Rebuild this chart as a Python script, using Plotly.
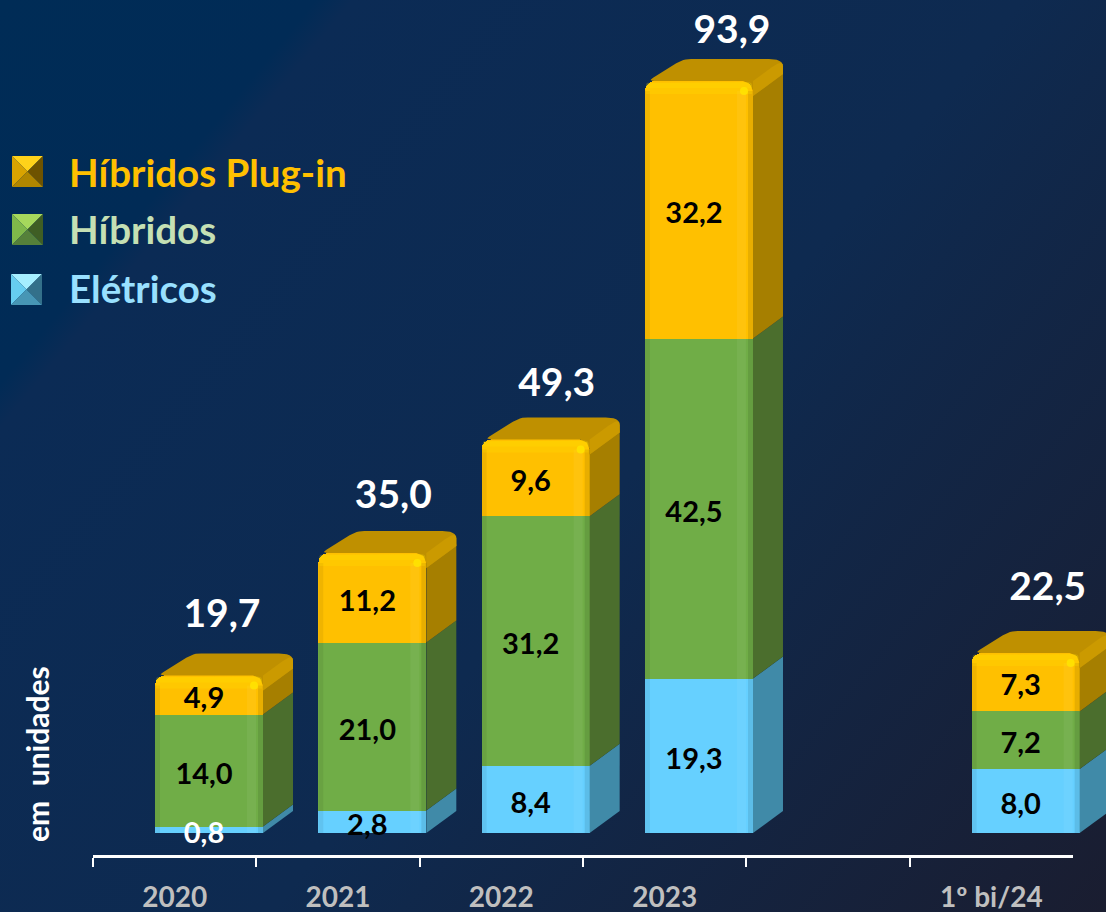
import base64
import plotly.graph_objects as go

# ---------- data ----------
categories = ["2020", "2021", "2022", "2023", " ", "1º bi/24"]
eletricos = [0.8, 2.8, 8.4, 19.3, None, 8.0]
hibridos = [14.0, 21.0, 31.2, 42.5, None, 7.2]
plugin = [4.9, 11.2, 9.6, 32.2, None, 7.3]
totais = [19.7, 35.0, 49.3, 93.9, None, 22.5]
series_names = ["Elétricos", "Híbridos", "Híbridos Plug-in"]

# ---------- geometry / style ----------
W, H = 1106, 912
PX = 163.33      # pixels per category
PY = 8.0         # pixels per unit
X0_PX = 175.0    # pixel of the first category centre
Y0_PX = 833.0    # pixel of value 0
AX_PX = 856.0    # pixel of axis line
BAR_W = 108
BAR_OFF = -20
DX, DY = 30, 22
FONT = "Lato, Carlito, 'Open Sans', sans-serif"
FRONT = ["#66d0ff", "#70ad47", "#ffc000"]
SIDE = ["#408aa8", "#4b6e2d", "#a67f00"]
TOP = "#bf9000"
BEVEL = "#cb9a00"
LEGEND_TXT = ["#99e0ff", "#c5e0b4", "#ffc000"]

idx = [i for i, t in enumerate(totais) if t is not None]
series = [eletricos, hibridos, plugin]


def ux(px):
    return px / PX


def uy(px):
    return px / PY


def rounded(pts, radii, n=6):
    """pts in data units, radii in px; returns a closed polygon in data units."""
    P = [(x * PX, y * PY) for x, y in pts]
    out = []
    m = len(P)
    for k in range(m):
        p, a, b = P[k], P[k - 1], P[(k + 1) % m]
        r = radii[k]
        if r == 0:
            out.append(p)
            continue
        def toward(q):
            d = ((q[0] - p[0]) ** 2 + (q[1] - p[1]) ** 2) ** 0.5
            f = min(r / d, 0.5)
            return (p[0] + (q[0] - p[0]) * f, p[1] + (q[1] - p[1]) * f)
        s, e = toward(a), toward(b)
        for j in range(n + 1):
            t = j / n
            out.append(((1 - t) ** 2 * s[0] + 2 * t * (1 - t) * p[0] + t ** 2 * e[0],
                        (1 - t) ** 2 * s[1] + 2 * t * (1 - t) * p[1] + t ** 2 * e[1]))
    out.append(out[0])
    return [q[0] / PX for q in out], [q[1] / PY for q in out]


fig = go.Figure()

# invisible trace so that the visible category axis shows its ticks
fig.add_trace(go.Scatter(x=categories, y=[0] * len(categories), xaxis="x", yaxis="y",
                         mode="markers", marker=dict(opacity=0), showlegend=False, hoverinfo="skip"))

# front faces: real stacked bars
for name, vals, col in zip(series_names, series, FRONT):
    fig.add_trace(go.Bar(x=idx, y=[vals[i] for i in idx], name=name, xaxis="x2", yaxis="y",
                         width=ux(BAR_W), offset=ux(BAR_OFF), marker=dict(color=col, line_width=0),
                         showlegend=False, hoverinfo="skip"))


def poly(xs, ys, color):
    fig.add_trace(go.Scatter(x=xs, y=ys, mode="lines", fill="toself", fillcolor=color,
                             line=dict(width=0, color=color), xaxis="x2", yaxis="y",
                             showlegend=False, hoverinfo="skip"))


for i in idx:
    x0 = i + ux(BAR_OFF)
    x1 = x0 + ux(BAR_W)
    dx, dy = ux(DX), uy(DY)
    top = sum(s[i] for s in series)
    # side faces per segment
    base = 0.0
    for s_i, s in enumerate(series):
        v = s[i]
        pts = [(x1, base), (x1 + dx, base + dy), (x1 + dx, base + v + dy), (x1, base + v)]
        rad = [0, 0, 14 if s_i == 2 else 0, 0]
        xs, ys = rounded(pts, rad)
        poly(xs, ys, SIDE[s_i])
        base += v
    # top silhouette (top face and upper bevel, no gaps, wraps the rounded front corner)
    xs, ys = rounded([(x0 + ux(3), top), (x0 + ux(38), top + dy), (x1 + dx, top + dy),
                      (x1 + dx, top + dy - uy(15)), (x1, top - uy(15)), (x1, top - uy(10)),
                      (x1 - ux(3), top - uy(3)), (x1 - ux(10), top)], [6, 8, 14, 0, 0, 0, 0, 0])
    poly(xs, ys, TOP)
    # upper bevel on the side
    xs, ys = rounded([(x1, top - uy(15)), (x1 + dx, top + dy - uy(15)), (x1 + dx, top + dy), (x1, top)], [0, 0, 14, 0])
    poly(xs, ys, BEVEL)
    # shading strips along the front
    low = 0.0
    hi = top - uy(10)
    xs, ys = rounded([(x0, low), (x0 + ux(5), low), (x0 + ux(5), hi), (x0, hi)], [0, 0, 0, 0])
    poly(xs, ys, "rgba(0,0,0,0.06)")
    xs, ys = rounded([(x1 - ux(16), low), (x1 - ux(7), low), (x1 - ux(7), hi), (x1 - ux(16), hi)], [0, 0, 0, 0])
    poly(xs, ys, "rgba(255,255,255,0.05)")
    xs, ys = rounded([(x1 - ux(5), low), (x1, low), (x1, hi), (x1 - ux(5), hi)], [0, 0, 0, 0])
    poly(xs, ys, "rgba(0,0,0,0.09)")
    # soft lip on the top of the front face
    xs, ys = rounded([(x0 + ux(1), top - uy(13)), (x1 - ux(1), top - uy(13)), (x1 - ux(1), top - uy(1)), (x0 + ux(1), top - uy(1))], [0, 0, 9, 9])
    poly(xs, ys, "rgba(255,224,0,0.25)")
    xs, ys = rounded([(x0 + ux(1), top - uy(7)), (x1 - ux(1), top - uy(7)), (x1 - ux(1), top - uy(1)), (x0 + ux(1), top - uy(1))], [0, 0, 6, 6])
    poly(xs, ys, "rgba(255,224,0,0.25)")
    # glint
    fig.add_trace(go.Scatter(x=[x1 - ux(9)], y=[top - uy(10)], mode="markers",
                             marker=dict(size=8, color="#ffea00", opacity=0.7, line_width=0),
                             xaxis="x2", yaxis="y", showlegend=False, hoverinfo="skip"))

# segment labels
lab_x, lab_y, lab_t, lab_c = [], [], [], []
for i in idx:
    base = 0.0
    for s in series:
        v = s[i]
        lab_x.append(i + ux(BAR_OFF + BAR_W / 2 - 5))
        lab_y.append(base + v / 2 - uy(6))
        lab_t.append(f"{v:.1f}".replace(".", ","))
        lab_c.append("#ffffff" if v < 1 else "#000000")
        base += v
fig.add_trace(go.Scatter(x=lab_x, y=lab_y, text=lab_t, mode="text", textposition="middle center",
                         textfont=dict(family=FONT, size=29, weight="bold", color=lab_c),
                         xaxis="x2", yaxis="y", showlegend=False, hoverinfo="skip"))

# total labels
tot_dx = [13, 21, 21, 33, 22]
tot_dy = [36, 33, 30, 27, 41]
fig.add_trace(go.Scatter(x=[i + ux(BAR_OFF + BAR_W / 2 + d) for i, d in zip(idx, tot_dx)],
                         y=[totais[i] + uy(DY + e) for i, e in zip(idx, tot_dy)],
                         text=[f"{totais[i]:.1f}".replace(".", ",") for i in idx],
                         mode="text", textposition="middle center",
                         textfont=dict(family=FONT, size=39, weight="bold", color="#ffffff"),
                         xaxis="x2", yaxis="y", showlegend=False, hoverinfo="skip"))


# ---------- legend (hand drawn: every entry has its own text colour) ----------
def pxx(p):
    return p / W


def pxy(p):
    return 1 - p / H


shapes = []
annotations = []


def tri(points, color):
    d = "M " + " L ".join(f"{pxx(a):.5f},{pxy(b):.5f}" for a, b in points) + " Z"
    shapes.append(dict(type="path", xref="paper", yref="paper", path=d, fillcolor=color, line_width=0, layer="above"))


legend_rows = [
    (series_names[2], 12, 156, ["#ffd21a", "#d9a300", "#6e5300", "#b08600"], LEGEND_TXT[2], 172),
    (series_names[1], 12, 214, ["#a6d85c", "#7fb84a", "#3f5e24", "#55803a"], LEGEND_TXT[1], 229),
    (series_names[0], 11, 274, ["#a5eeff", "#66cdf0", "#33708a", "#4796b5"], LEGEND_TXT[0], 288),
]
for name, lx, ly, cols, tcol, ty in legend_rows:
    s = 31
    c = (lx + s / 2, ly + s / 2)
    tl, tr, br, bl = (lx, ly), (lx + s, ly), (lx + s, ly + s), (lx, ly + s)
    tri([tl, tr, c], cols[0])
    tri([tl, c, bl], cols[1])
    tri([tr, br, c], cols[2])
    tri([bl, c, br], cols[3])
    annotations.append(dict(text=name, xref="paper", yref="paper", x=pxx(67), y=pxy(ty), xanchor="left", yanchor="middle",
                            showarrow=False, font=dict(family=FONT, size=38.5, weight="bold", color=tcol)))

annotations.append(dict(text="em\u00a0\u00a0unidades", xref="paper", yref="paper", x=pxx(37), y=pxy(754), textangle=-90,
                        xanchor="center", yanchor="middle", showarrow=False,
                        font=dict(family=FONT, size=30, weight="bold", color="#ffffff")))

# ---------- background ----------
svg = f"""<svg xmlns='http://www.w3.org/2000/svg' width='{W}' height='{H}'>
<defs><linearGradient id='g' gradientUnits='userSpaceOnUse' x1='0' y1='0' x2='{W}' y2='{H}'>
<stop offset='0' stop-color='#002c56'/><stop offset='0.17' stop-color='#012b56'/>
<stop offset='0.19' stop-color='#0b2b55'/><stop offset='0.55' stop-color='#0e2a50'/>
<stop offset='1' stop-color='#1a1d30'/></linearGradient></defs>
<rect width='{W}' height='{H}' fill='url(#g)'/></svg>"""
bg = "data:image/svg+xml;base64," + base64.b64encode(svg.encode()).decode()

fig.update_layout(
    width=W, height=H, margin=dict(l=0, r=0, t=0, b=0),
    paper_bgcolor="#0e2a50", plot_bgcolor="rgba(0,0,0,0)",
    barmode="stack", barcornerradius=10, showlegend=False,
    images=[dict(source=bg, xref="paper", yref="paper", x=0, y=1, sizex=1, sizey=1,
                 sizing="stretch", xanchor="left", yanchor="top", layer="below")],
    shapes=shapes, annotations=annotations,
    xaxis=dict(type="category", categoryorder="array", categoryarray=categories, range=[-0.5, 5.5],
               domain=[93 / W, 1073 / W], anchor="free", position=(H - AX_PX) / H,
               tickson="boundaries", ticks="outside", ticklen=9, tickwidth=2, tickcolor="#ffffff",
               showline=True, linecolor="#ffffff", linewidth=2.5, showgrid=False, zeroline=False,
               tickfont=dict(family=FONT, size=28, weight="bold", color="#bfbfbf"),
               ticklabelstandoff=16, fixedrange=True),
    xaxis2=dict(range=[-X0_PX / PX, (W - X0_PX) / PX], domain=[0, 1], anchor="y",
                visible=False, fixedrange=True),
    yaxis=dict(range=[-(H - Y0_PX) / PY, Y0_PX / PY], domain=[0, 1], visible=False, fixedrange=True),
)

fig.write_html("out.html", config=dict(displayModeBar=False),
               post_script="document.body.style.margin='0';document.body.style.overflow='hidden';")
